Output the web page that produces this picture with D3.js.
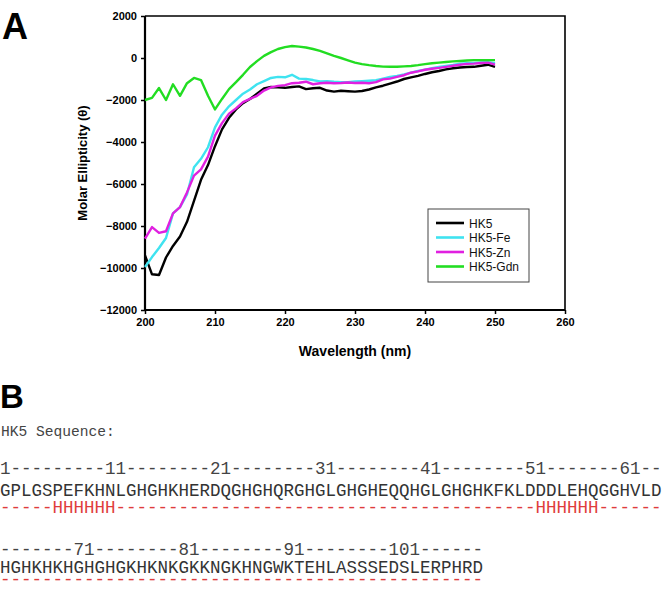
<!DOCTYPE html>
<html>
<head>
<meta charset="utf-8">
<script src="https://cdn.jsdelivr.net/npm/d3@7"></script>
<style>
  html, body { margin: 0; padding: 0; background: #fff; }
  svg { display: block; }
</style>
</head>
<body>
<svg id="chart" width="666" height="590"></svg>
<script>
// ---------- DATA ----------
const wavelengths = [200,201,202,203,204,205,206,207,208,209,210,211,212,213,214,215,216,217,218,219,220,221,222,223,224,225,226,227,228,229,230,231,232,233,234,235,236,237,238,239,240,241,242,243,244,245,246,247,248,249,250];
const seriesNames = ["HK5", "HK5-Fe", "HK5-Zn", "HK5-Gdn"];
const hk5 = [-9400,-10300,-10330,-9500,-8950,-8500,-7800,-6800,-5800,-5100,-4200,-3400,-2850,-2450,-2150,-1950,-1700,-1450,-1380,-1400,-1420,-1380,-1350,-1480,-1440,-1420,-1550,-1600,-1560,-1580,-1600,-1570,-1500,-1400,-1320,-1220,-1120,-1000,-920,-850,-760,-680,-620,-540,-490,-450,-430,-420,-370,-320,-420];
const hk5Fe = [-9950,-9480,-9050,-8570,-7400,-7100,-6500,-5200,-4800,-4250,-3300,-2700,-2300,-2000,-1700,-1500,-1250,-1100,-950,-900,-920,-800,-980,-1000,-1050,-1120,-1100,-1130,-1150,-1150,-1120,-1100,-1080,-1060,-980,-900,-850,-780,-700,-620,-550,-480,-430,-380,-330,-270,-250,-230,-210,-200,-250];
const hk5Zn = [-8600,-8050,-8330,-8250,-7400,-7100,-6400,-5600,-5300,-4700,-3700,-3100,-2650,-2400,-2100,-1950,-1800,-1550,-1400,-1330,-1290,-1200,-1180,-1130,-1250,-1200,-1180,-1200,-1190,-1170,-1190,-1180,-1200,-1150,-1020,-980,-900,-820,-700,-640,-560,-510,-470,-420,-370,-320,-280,-270,-240,-220,-320];
const hk5Gdn = [-2000,-1900,-1430,-2000,-1250,-1800,-1200,-950,-1050,-1800,-2450,-1950,-1480,-1150,-800,-430,-150,100,280,430,520,570,540,500,430,340,220,100,0,-110,-220,-290,-340,-380,-410,-420,-420,-400,-380,-340,-290,-250,-220,-190,-160,-140,-120,-100,-100,-100,-100];
const xTicks = [200,210,220,230,240,250,260];
const yTicks = [2000,0,-2000,-4000,-6000,-8000,-10000,-12000];

const seqTitle = "HK5 Sequence:";
const numberRows = ["1---------11--------21--------31--------41--------51-------61--",
                    "-------71--------81--------91--------101------"];
const residueRows = ["GPLGSPEFKHNLGHGHKHERDQGHGHQRGHGLGHGHEQQHGLGHGHKFKLDDDLEHQGGHVLD",
                     "HGHKHKHGHGHGKHKNKGKKNGKHNGWKTEHLASSSEDSLERPHRD"];
const helixRows = ["-----HHHHHH----------------------------------------HHHHHH------",
                   "----------------------------------------------"];

// ---------- LAYOUT ----------
const svg = d3.select("#chart");
const colors = ["#000000", "#3FE3F0", "#E020E0", "#22DD22"];
const seriesData = [hk5, hk5Fe, hk5Zn, hk5Gdn];

const plot = {left: 145, top: 16, right: 565, bottom: 310};
const x = d3.scaleLinear().domain([200, 260]).range([plot.left, plot.right]);
const y = d3.scaleLinear().domain([-12000, 2000]).range([plot.bottom, plot.top]);

// Panel label A
svg.append("text").attr("x", 2).attr("y", 39)
  .attr("font-family", "Liberation Sans, Arial, sans-serif")
  .attr("font-weight", "bold").attr("font-size", 36).text("A");

// Plot frame (top/right)
svg.append("path")
  .attr("d", `M${plot.left},${plot.top}H${plot.right}V${plot.bottom}`)
  .attr("fill", "none").attr("stroke", "#000").attr("stroke-width", 1.6);

// Axes
const xAxis = d3.axisBottom(x).tickValues(xTicks).tickSize(4).tickFormat(d3.format("d"));
const yAxis = d3.axisLeft(y).tickValues(yTicks).tickSize(4).tickFormat(d3.format("d"));

const gx = svg.append("g").attr("transform", `translate(0,${plot.bottom})`).call(xAxis);
const gy = svg.append("g").attr("transform", `translate(${plot.left},0)`).call(yAxis);
[gx, gy].forEach(g => {
  g.select(".domain").attr("stroke", "#000").attr("stroke-width", 2.2);
  g.selectAll(".tick line").attr("stroke", "#000").attr("stroke-width", 1.5);
  g.selectAll(".tick text")
    .attr("font-family", "Liberation Sans, Arial, sans-serif")
    .attr("font-weight", "bold").attr("font-size", 11).attr("fill", "#000");
});
gx.select(".domain").attr("d", `M${plot.left},0H${plot.right}`);
gy.select(".domain").attr("d", `M0,${plot.bottom}V${plot.top}`);
gx.selectAll(".tick text").attr("dy", "0.95em").attr("y", 6);
gy.selectAll(".tick text").attr("x", -8);

// Axis titles
svg.append("text")
  .attr("x", (plot.left + plot.right) / 2).attr("y", 356)
  .attr("text-anchor", "middle")
  .attr("font-family", "Liberation Sans, Arial, sans-serif")
  .attr("font-weight", "bold").attr("font-size", 14).text("Wavelength (nm)");

svg.append("text")
  .attr("transform", `translate(87,${(plot.top + plot.bottom) / 2}) rotate(-90)`)
  .attr("text-anchor", "middle")
  .attr("font-family", "Liberation Sans, Arial, sans-serif")
  .attr("font-weight", "bold").attr("font-size", 13).text("Molar Ellipticity (\u03B8)");

// Lines
const line = d3.line().x((d, i) => x(wavelengths[i])).y(d => y(d));
seriesData.forEach((s, k) => {
  svg.append("path").datum(s)
    .attr("d", line)
    .attr("fill", "none")
    .attr("stroke", colors[k])
    .attr("stroke-width", 2.4)
    .attr("stroke-linejoin", "round");
});

// Legend
const lg = svg.append("g").attr("transform", "translate(428,209)");
lg.append("rect").attr("width", 101).attr("height", 73)
  .attr("fill", "#fff").attr("stroke", "#444").attr("stroke-width", 1);
seriesNames.forEach((n, k) => {
  const yy = 14 + k * 14.5;
  lg.append("line").attr("x1", 8).attr("x2", 36).attr("y1", yy).attr("y2", yy)
    .attr("stroke", colors[k]).attr("stroke-width", 2.6);
  lg.append("text").attr("x", 41).attr("y", yy + 4.5)
    .attr("font-family", "Liberation Sans, Arial, sans-serif")
    .attr("font-size", 12).attr("fill", "#111").text(n);
});

// Panel B
svg.append("text").attr("x", 0).attr("y", 408)
  .attr("font-family", "Liberation Sans, Arial, sans-serif")
  .attr("font-weight", "bold").attr("font-size", 33).text("B");

const mono = "Liberation Mono, Courier New, monospace";
svg.append("text").attr("x", 1).attr("y", 436)
  .attr("font-family", mono).attr("font-size", 14.6).attr("fill", "#444")
  .attr("xml:space", "preserve").text(seqTitle);

const rowBase = [[474, 496, 513], [555, 573, 585]];
numberRows.forEach((r, i) => {
  svg.append("text").attr("x", 0).attr("y", rowBase[i][0])
    .attr("font-family", mono).attr("font-size", 17.5).attr("fill", "#444").text(r);
  svg.append("text").attr("x", 0).attr("y", rowBase[i][1])
    .attr("font-family", mono).attr("font-size", 17.5).attr("fill", "#333").text(residueRows[i]);
  svg.append("text").attr("x", 0).attr("y", rowBase[i][2])
    .attr("font-family", mono).attr("font-size", 17.5).attr("fill", "#E03C3C").text(helixRows[i]);
});
</script>
</body>
</html>
